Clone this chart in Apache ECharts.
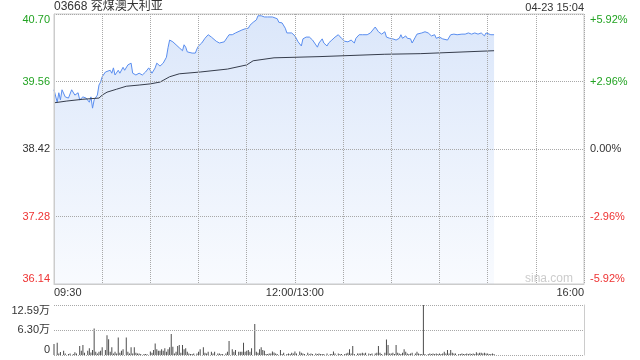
<!DOCTYPE html>
<html>
<head>
<meta charset="utf-8">
<script src="https://cdn.jsdelivr.net/npm/echarts@6/dist/echarts.min.js"></script>
<style>html,body{margin:0;padding:0;background:#fff;}#c{width:640px;height:360px;}</style>
</head>
<body>
<div id="c"></div>
<script>
// ---- data ----
const stockTitle = '03668 兖煤澳大利亚';
const stampText = '04-23 15:04';
const timeTickMinutes = [0, 150, 330];
const timeTickLabels = ['09:30', '12:00/13:00', '16:00'];
const priceTicks = [36.14, 37.28, 38.42, 39.56, 40.70];
const prevClose = 38.42;
const pctTicks = [-5.92, -2.96, 0, 2.96, 5.92];
const volTickLabels = ['0', '6.30万', '12.59万'];

const priceMinutes = [0,2,3,4,5,7,8,9,11,13,15,16,18,20,22,23,24,25,27,28,29,30,32,33,35,36,37,38,40,41,43,44,46,48,49,50,51,53,55,57,59,61,63,64,66,68,69,70,71,72,74,76,78,80,81,82,83,86,88,89,90,92,94,96,98,99,101,103,104,106,108,109,111,113,114,117,119,121,122,124,126,127,129,131,133,136,137,139,140,142,144,145,148,150,152,154,155,157,159,161,162,164,165,167,168,170,171,173,175,177,179,181,183,185,187,188,190,192,195,197,198,200,202,204,206,207,209,211,213,215,216,217,219,220,222,223,225,226,229,231,233,235,237,238,240,242,245,246,247,249,251,254,256,258,260,262,264,266,268,269,270,272,274];
const priceValues = [39.42,39.21,39.37,39.25,39.42,39.30,39.32,39.28,39.42,39.33,39.37,39.25,39.30,39.28,39.21,39.30,39.11,39.25,39.33,39.50,39.55,39.64,39.72,39.70,39.75,39.70,39.79,39.67,39.75,39.70,39.80,39.75,39.84,39.87,39.70,39.72,39.67,39.70,39.67,39.72,39.79,39.70,39.79,39.87,39.82,39.87,39.89,39.97,40.13,40.26,40.23,40.18,40.13,40.08,40.18,40.14,40.06,40.04,40.04,40.11,40.16,40.21,40.29,40.35,40.31,40.33,40.24,40.21,40.24,40.23,40.31,40.35,40.35,40.38,40.36,40.43,40.45,40.46,40.51,40.56,40.60,40.67,40.67,40.65,40.65,40.65,40.65,40.62,40.56,40.55,40.46,40.38,40.38,40.33,40.23,40.16,40.28,40.31,40.31,40.26,40.29,40.14,40.21,40.28,40.21,40.16,40.21,40.26,40.31,40.35,40.29,40.24,40.23,40.26,40.21,40.29,40.35,40.35,40.35,40.38,40.41,40.48,40.40,40.36,40.40,40.31,40.29,40.28,40.26,40.29,40.35,40.29,40.33,40.29,40.28,40.21,40.31,40.36,40.38,40.40,40.38,40.33,40.35,40.29,40.31,40.28,40.26,40.23,40.35,40.36,40.35,40.36,40.36,40.38,40.36,40.38,40.36,40.38,40.33,40.38,40.36,40.35,40.35];

const avgMinutes = [0,8,18,28,30,33,39,45,53,60,66,72,78,91,108,120,124,137,165,206,228,229,274];
const avgValues = [39.20,39.23,39.26,39.28,39.33,39.38,39.43,39.48,39.50,39.52,39.55,39.64,39.69,39.72,39.77,39.84,39.91,39.96,39.98,40.02,40.03,40.06,40.08];

const volMinutes = [0,2,3,4,6,7,9,10,12,13,14,16,17,18,19,21,22,23,24,25,26,27,28,29,30,32,33,34,35,36,37,38,39,40,41,42,43,45,46,47,48,49,50,51,52,53,54,56,57,58,60,61,62,63,64,65,66,67,68,69,70,71,72,73,74,75,76,77,78,79,80,81,82,83,84,85,86,87,89,90,
91,93,94,95,96,98,99,100,102,103,104,105,107,108,109,111,112,113,115,116,117,118,119,120,121,122,123,125,126,127,128,129,130,131,132,133,134,135,136,137,138,139,141,142,143,145,146,147,148,149,150,151,153,154,155,156,158,159,160,161,163,164,165,166,167,168,170,172,173,174,175,177,178,179,181,
182,183,184,185,186,187,189,190,191,192,193,194,196,197,198,200,201,202,203,204,206,207,208,209,210,211,212,213,214,215,216,217,218,219,220,221,222,223,225,226,227,228,229,230,231,233,234,235,236,237,238,239,240,241,242,243,244,245,246,247,248,249,250,252,253,254,255,256,257,258,259,260,261,262,263,264,265,266,267,268,269,270,271,272,273,274];
const volValues = [2.77,3.1,0.38,0.75,1.1,0.4,0.25,0.4,0.25,0.7,0.4,2.27,1.1,2.52,0.55,1.1,1.7,0.6,1.26,6.7,0.8,0.4,0.8,1.1,1.93,1.26,4.95,3.95,0.8,1.93,0.4,0.8,0.4,4.4,0.55,1.1,1.43,4.4,0.8,0.4,1.93,0.4,1.93,0.55,0.4,0.4,0.25,0.25,0.25,0.2,0.9,0.55,1.26,2.9,1.43,1.1,1.1,1.43,1.1,1.7,0.8,1.43,1.93,5.3,2.1,0.4,0.8,2.27,2.52,0.55,2.52,1.43,1.68,0.8,0.4,0.25,0.25,0.4,0.4,0.8,
1.43,1.93,0.55,0.38,0.8,0.8,0.38,0.8,0.38,0.38,0.25,0.25,0.38,0.8,3.5,1.43,0.8,1.26,0.8,0.8,0.8,3.1,0.8,1.1,1.26,0.8,1.68,7.8,0.8,0.55,1.43,1.93,1.26,1.1,0.25,0.25,0.38,0.38,0.9,0.6,0.38,0.25,1.26,0.25,0.55,0.25,0.38,0.25,0.55,0.38,0.9,0.38,0.9,0.55,0.38,0.25,0.55,0.2,0.38,0.25,0.38,0.25,0.38,0.25,0.25,0.25,0.38,0.25,0.25,0.9,0.38,0.38,0.25,0.25,0.25,
0.38,0.55,1.43,0.38,2.27,0.25,0.38,0.38,0.38,0.55,0.38,0.55,0.38,0.25,0.38,0.38,0.55,2.27,0.55,0.25,0.55,3.9,2.52,0.38,0.38,0.55,0.25,2.52,0.55,0.38,0.25,0.55,1.43,0.8,0.38,0.25,0.38,0.55,0.38,0.8,0.38,0.25,0.25,12.59,0.25,0.25,0.38,0.25,0.38,0.25,0.38,0.25,0.38,0.25,0.38,0.8,0.38,1.26,0.38,1.26,0.55,0.38,0.38,0.25,0.25,0.38,0.25,0.25,0.38,0.25,0.38,0.25,0.38,0.25,0.7,0.38,0.55,0.55,0.38,0.55,0.38,0.38,0.25,0.25,0.38,0.25];

// ---- build ----
const zip = (a, b) => a.map((m, i) => [m, b[i]]);
const FONT = "'Liberation Sans', 'Noto Sans CJK SC', sans-serif";
const GREEN = '#22a322', RED = '#ee3333', DARK = '#333333';
const gridLine = () => ({ show: true, lineStyle: { color: '#a8a8a8', type: 'dotted', width: 1 } });

const chart = echarts.init(document.getElementById('c'), null, { renderer: 'canvas' });
chart.setOption({
  animation: false,
  backgroundColor: '#ffffff',
  textStyle: { fontFamily: FONT },
  title: [
    { text: stockTitle, left: 54, top: 1, padding: 0,
      textStyle: { fontSize: 12, fontWeight: 'normal', color: DARK, fontFamily: FONT } },
    { text: stampText, right: 56, top: 2, padding: 0,
      textStyle: { fontSize: 11, fontWeight: 'normal', color: DARK, fontFamily: FONT } }
  ],
  graphic: [
    { type: 'text', right: 67, top: 273, silent: true, z: 10,
      style: { text: 'sina.com', fill: '#cccccc', font: '12px ' + FONT } }
  ],
  grid: [
    { left: 54, top: 14, width: 530, height: 270, show: true, borderColor: '#cccccc', borderWidth: 1 },
    { left: 54, top: 305, width: 530, height: 50 }
  ],
  xAxis: [
    { type: 'value', gridIndex: 0, min: 0, max: 330, interval: 30, z: 5,
      axisLine: { show: true, onZero: false, lineStyle: { color: '#cccccc' } }, axisTick: { show: false },
      splitLine: gridLine(),
      axisLabel: { show: true, margin: 3, fontSize: 11, color: DARK, fontFamily: FONT,
        alignMinLabel: 'left', alignMaxLabel: 'right',
        formatter: v => { const i = timeTickMinutes.indexOf(Math.round(v)); return i >= 0 ? timeTickLabels[i] : ''; } } },
    { type: 'value', gridIndex: 1, min: 0, max: 330, interval: 30,
      axisLine: { show: false, onZero: false }, axisTick: { show: false }, axisLabel: { show: false }, splitLine: { show: false } }
  ],
  yAxis: [
    { type: 'value', gridIndex: 0, position: 'left', min: priceTicks[0], max: priceTicks[priceTicks.length - 1], interval: 1.14, z: 5,
      axisLine: { show: true, onZero: false, lineStyle: { color: '#cccccc' } }, axisTick: { show: false },
      splitLine: gridLine(),
      axisLabel: { margin: 4, fontSize: 11, fontFamily: FONT,
        verticalAlignMinLabel: 'bottom', verticalAlignMaxLabel: 'top',
        formatter: v => v.toFixed(2),
        color: v => (v > prevClose + 0.001 ? GREEN : (v < prevClose - 0.001 ? RED : DARK)) } },
    { type: 'value', gridIndex: 0, position: 'right', min: pctTicks[0], max: pctTicks[pctTicks.length - 1], interval: 2.96,
      axisLine: { show: false, onZero: false }, axisTick: { show: false }, splitLine: { show: false },
      axisLabel: { margin: 6, fontSize: 11, fontFamily: FONT,
        verticalAlignMinLabel: 'bottom', verticalAlignMaxLabel: 'top',
        formatter: v => (Math.abs(v) < 1e-6 ? '0.00%' : (v > 0 ? '+' : '') + v.toFixed(2) + '%'),
        color: v => (v > 0.001 ? GREEN : (v < -0.001 ? RED : DARK)) } },
    { type: 'value', gridIndex: 1, position: 'left', min: 0, max: 12.59, interval: 6.295, z: 5,
      axisLine: { show: false, onZero: false }, axisTick: { show: false },
      splitLine: gridLine(),
      axisLabel: { margin: 4, fontSize: 11, color: DARK, fontFamily: FONT,
        verticalAlignMinLabel: 'bottom', verticalAlignMaxLabel: 'top',
        formatter: (v, i) => volTickLabels[i] } },
    { type: 'value', gridIndex: 1, position: 'right', min: 0, max: 12.59, interval: 6.295,
      axisLine: { show: true, onZero: false, lineStyle: { color: '#cccccc' } }, axisTick: { show: false },
      axisLabel: { show: false }, splitLine: { show: false } }
  ],
  series: [
    { type: 'line', xAxisIndex: 0, yAxisIndex: 0, data: zip(priceMinutes, priceValues),
      showSymbol: false, symbol: 'none', silent: true, z: 1,
      lineStyle: { color: '#5a8ef0', width: 1 },
      areaStyle: { origin: 'start', color: new echarts.graphic.LinearGradient(0, 0, 0, 1, [
        { offset: 0, color: 'rgba(70,130,230,0.28)' }, { offset: 1, color: 'rgba(70,130,230,0.05)' } ]) } },
    { type: 'line', xAxisIndex: 0, yAxisIndex: 0, data: zip(avgMinutes, avgValues),
      showSymbol: false, symbol: 'none', silent: true, z: 3,
      lineStyle: { color: '#363d4c', width: 1 } },
    { type: 'bar', xAxisIndex: 1, yAxisIndex: 2, data: zip(volMinutes, volValues),
      barWidth: 1, silent: true, itemStyle: { color: '#4d4d4d' } }
  ]
});
</script>
</body>
</html>
